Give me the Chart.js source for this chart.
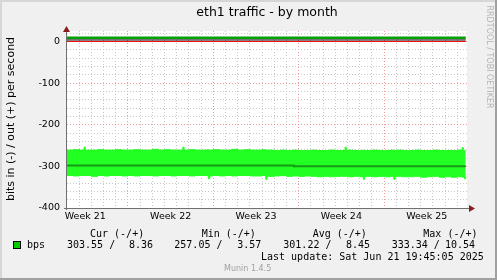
<!DOCTYPE html>
<html>
<head>
<meta charset="utf-8">
<script src="https://cdn.jsdelivr.net/npm/chart.js@4.4.0/dist/chart.umd.min.js"></script>
<style>html,body{margin:0;padding:0;background:#f0f0f0}</style>
</head>
<body>
<canvas id="chart" width="497" height="280"></canvas>
<script>
// days since start of graph -> x axis (half day steps + narrow spikes)
const bandDays = [0,0.5,1,1.4,1.5,2,2.5,3,3.5,4,4.5,
  5,5.5,6,6.5,7,7.5,8,8.5,9,9.5,9.6,10,10.5,
  11,11.5,11.6,11.7,12,12.5,13,13.5,14,14.5,
  15,15.5,16,16.3,16.4,16.5,17,17.5,18,18.5,19,19.5,
  20,20.5,21,21.5,22,22.5,22.8,22.9,23,23.5,24,24.3,24.4,24.5,
  25,25.5,26,26.5,26.8,26.9,27,27.5,28,28.5,29,29.5,
  30,30.5,31,31.5,32,32.4,32.5,32.6,32.7];
// "in" traffic, top edge of the noisy band (negative = in)
const inHigh = [-261,-260,-261,-254,-261,-261,-260,-261,-261,-260,-261,
  -261,-260,-261,-261,-259,-261,-260,-261,-261,-254,-261,-260,-261,
  -261,-260,-261,-261,-260,-261,-261,-259,-261,-260,
  -261,-261,-260,-261,-261,-261,-262,-261,-262,-261,-262,-262,
  -261,-262,-262,-261,-262,-262,-254,-262,-261,-262,-262,-261,-262,-262,
  -261,-262,-262,-261,-262,-262,-261,-262,-262,-261,-262,-262,
  -261,-262,-262,-262,-261,-255,-262,-262,-262];
// bottom edge of the band
const inLow = [-322,-323,-322,-322,-322,-324,-322,-323,-322,-322,-323,
  -322,-323,-322,-322,-323,-322,-322,-323,-322,-322,-322,-323,-322,
  -322,-323,-330,-323,-322,-323,-322,-323,-322,-322,
  -323,-323,-322,-331,-323,-324,-323,-322,-324,-323,-324,-323,
  -324,-325,-324,-325,-324,-324,-324,-324,-325,-324,-325,-331,-325,-324,
  -325,-324,-325,-324,-331,-325,-324,-325,-325,-324,-326,-325,
  -324,-326,-325,-326,-325,-326,-326,-330,-326];
// average in line
const avgDays = [0, 18.6, 18.6, 32.7];
const inAvg = [-298, -298, -300, -300];
// out side, near zero
const lineDays = [0, 32.7];
const outAvg = [8.6, 8.6];
const outMin = [3.5, 3.5];
const zeroLine = [0, 0];

const weekLabels = ['Week 21', 'Week 22', 'Week 23', 'Week 24', 'Week 25'];
const weekCenters = [1.5, 8.5, 15.5, 22.5, 29.5];
const weekStarts = [5, 12, 19, 26];

const legendHead = ['Cur (-/+)', 'Min (-/+)', 'Avg (-/+)', 'Max (-/+)'];
const legendIn = ['303.55 /', '257.05 /', '301.22 /', '333.34 /'];
const legendOut = ['8.36', '3.57', '8.45', '10.54'];

function pts(xs, ys){
  return xs.map((x, i) => ({x: x, y: ys[i]}));
}

Chart.defaults.font.family = 'DejaVu Sans';
Chart.defaults.animation = false;

const decor = {
  id: 'decor',
  beforeDraw(chart){
    const ctx = chart.ctx, a = chart.chartArea;
    ctx.save();
    ctx.fillStyle = '#f0f0f0';
    ctx.fillRect(0, 0, 497, 280);
    ctx.fillStyle = '#d6d6d6';
    ctx.fillRect(0, 0, 2, 280);
    ctx.fillRect(0, 0, 497, 2);
    ctx.fillStyle = '#a0a0a0';
    ctx.fillRect(495, 0, 2, 280);
    ctx.fillRect(0, 278, 497, 2);
    ctx.fillStyle = '#ffffff';
    ctx.fillRect(a.left, a.top, a.right - a.left, a.bottom - a.top);
    ctx.restore();
  },
  afterDraw(chart){
    const ctx = chart.ctx, a = chart.chartArea;
    ctx.save();
    // axes
    ctx.strokeStyle = '#707070';
    ctx.lineWidth = 1;
    ctx.beginPath();
    ctx.moveTo(a.left - 0.5, a.bottom + 2);
    ctx.lineTo(a.left - 0.5, a.top - 2);
    ctx.moveTo(a.left - 3, a.bottom + 0.5);
    ctx.lineTo(a.right + 3, a.bottom + 0.5);
    ctx.stroke();
    ctx.fillStyle = '#8b1c1c';
    ctx.beginPath();
    ctx.moveTo(a.left - 0.5, a.top - 5);
    ctx.lineTo(a.left - 4, a.top + 1);
    ctx.lineTo(a.left + 3, a.top + 1);
    ctx.fill();
    ctx.beginPath();
    ctx.moveTo(a.right + 8, a.bottom + 0.5);
    ctx.lineTo(a.right + 2, a.bottom - 3);
    ctx.lineTo(a.right + 2, a.bottom + 4);
    ctx.fill();

    // title
    ctx.fillStyle = '#000';
    ctx.textBaseline = 'middle';
    ctx.textAlign = 'center';
    ctx.font = '12.5px "DejaVu Sans"';
    ctx.fillText('eth1 traffic - by month', 267, 13);

    // y axis title
    ctx.save();
    ctx.translate(11, 119);
    ctx.rotate(-Math.PI / 2);
    ctx.font = '11px "DejaVu Sans"';
    ctx.fillText('bits in (-) / out (+) per second', 0, 0);
    ctx.restore();

    // watermark
    ctx.save();
    ctx.translate(489, 57);
    ctx.rotate(Math.PI / 2);
    ctx.fillStyle = '#b4b4b4';
    ctx.font = '8px "DejaVu Sans"';
    ctx.fillText('RRDTOOL / TOBI OETIKER', 0, 0);
    ctx.restore();

    // legend
    ctx.textAlign = 'left';
    ctx.font = '10px "DejaVu Sans Mono"';
    const headX = [90, 201.7, 312.7, 423.3];
    legendHead.forEach((t, i) => ctx.fillText(t, headX[i], 234));
    ctx.fillStyle = '#00cc00';
    ctx.fillRect(13.5, 241.5, 7, 7);
    ctx.strokeStyle = '#000';
    ctx.strokeRect(13.5, 241.5, 7, 7);
    ctx.fillStyle = '#000';
    ctx.fillText('bps', 27, 245.5);
    const inX = [67, 174.3, 283.3, 391.7];
    const outX = [129, 237.3, 346, 445];
    legendIn.forEach((t, i) => ctx.fillText(t, inX[i], 245.5));
    legendOut.forEach((t, i) => ctx.fillText(t, outX[i], 245.5));
    ctx.fillText('Last update: Sat Jun 21 19:45:05 2025', 261, 257.5);
    ctx.fillStyle = '#a0a0a0';
    ctx.font = '8px "DejaVu Sans"';
    ctx.fillText('Munin 1.4.5', 224, 269);
    ctx.restore();
  }
};

const config = {
  type: 'line',
  data: {
    datasets: [
      {
        data: pts(avgDays, inAvg),
        borderColor: '#179917',
        borderWidth: 2,
        pointRadius: 0,
        fill: false,
        order: 0
      },
      {
        data: pts(bandDays, inHigh),
        borderColor: '#22ff22',
        backgroundColor: '#22ff22',
        borderWidth: 1,
        pointRadius: 0,
        stepped: true,
        fill: '+1',
        order: 1
      },
      {
        data: pts(bandDays, inLow),
        borderColor: '#22ff22',
        borderWidth: 1,
        pointRadius: 0,
        stepped: true,
        fill: false,
        order: 1
      },
      {
        data: pts(lineDays, outAvg),
        borderColor: '#00a000',
        borderWidth: 2.5,
        pointRadius: 0,
        fill: false,
        order: 0
      },
      {
        data: pts(lineDays, outMin),
        borderColor: '#000000',
        borderWidth: 1,
        pointRadius: 0,
        fill: false,
        order: 0
      },
      {
        data: pts(lineDays, zeroLine),
        borderColor: '#ee0000',
        borderWidth: 1,
        pointRadius: 0,
        fill: false,
        order: 0
      }
    ]
  },
  options: {
    responsive: false,
    layout: {padding: {left: 0, right: 30, top: 31, bottom: 0}},
    plugins: {legend: {display: false}, tooltip: {enabled: false}, title: {display: false}},
    scales: {
      x: {
        type: 'linear',
        min: 0,
        max: 32.8,
        afterFit: (s) => { s.height = 72; },
        afterBuildTicks: (s) => {
          const t = [];
          for (let d = 1; d <= 32; d++) t.push({value: d});
          weekCenters.forEach(c => t.push({value: c}));
          s.ticks = t;
        },
        ticks: {
          autoSkip: false,
          maxRotation: 0,
          padding: 3,
          color: '#000',
          font: {size: 9.5},
          callback: (v) => {
            const i = weekCenters.indexOf(v);
            return i >= 0 ? weekLabels[i] : '';
          }
        },
        grid: {
          drawTicks: false,
          lineWidth: 1,
          color: (c) => {
            const v = c.tick ? c.tick.value : 0;
            if (v % 1 !== 0) return 'rgba(0,0,0,0)';
            if (weekStarts.includes(v)) return 'rgba(235,120,120,0.75)';
            return '#c8c8c8';
          }
        },
        border: {display: false, dash: [1, 2]}
      },
      y: {
        type: 'linear',
        min: -400,
        max: 25,
        afterFit: (s) => { s.width = 67; },
        afterBuildTicks: (s) => {
          const t = [];
          for (let v = -380; v <= 20; v += 20) t.push({value: v});
          t.push({value: -400});
          s.ticks = t;
        },
        ticks: {
          autoSkip: false,
          padding: 7,
          color: '#000',
          font: {size: 9.5},
          callback: (v) => (v % 100 === 0 ? String(v) : '')
        },
        grid: {
          drawTicks: false,
          lineWidth: 1,
          color: (c) => {
            const v = c.tick ? c.tick.value : 0;
            if (v === -400) return 'rgba(0,0,0,0)';
            if (v % 100 === 0) return 'rgba(235,120,120,0.75)';
            return '#c8c8c8';
          }
        },
        border: {display: false, dash: [1, 2]}
      }
    }
  },
  plugins: [decor]
};

var myChart = new Chart(document.getElementById('chart').getContext('2d'), config);
</script>
</body>
</html>
